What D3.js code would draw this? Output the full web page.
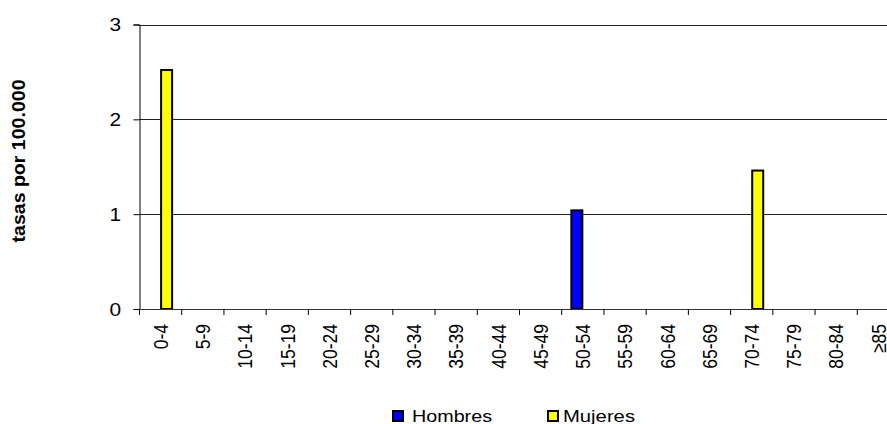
<!DOCTYPE html>
<html><head><meta charset="utf-8">
<script src="https://cdn.jsdelivr.net/npm/d3@7"></script>
<style>body{margin:0;background:#fff;overflow:hidden}svg{display:block;font-family:Arial,"Liberation Sans",sans-serif}</style>
</head><body><svg id="c" width="887" height="424"></svg>
<script>
const categories = ["0-4","5-9","10-14","15-19","20-24","25-29","30-34","35-39","40-44","45-49","50-54","55-59","60-64","65-69","70-74","75-79","80-84","≥85"];
const hombres = [0,0,0,0,0,0,0,0,0,0,1.04,0,0,0,0,0,0,0];
const mujeres = [2.52,0,0,0,0,0,0,0,0,0,0,0,0,0,1.46,0,0,0];
const seriesNames = ["Hombres","Mujeres"];
const seriesColors = ["#0000ff","#ffff00"];
const yTicks = [0,1,2,3];

const FONT = "Arial, 'Liberation Sans', sans-serif";
const SX = 1.16; // horizontal stretch seen in the reference text
const svg = d3.select("#c");
const mLeft = 139.5, mTop = 24.5, plotW = 760, plotH = 284.5;
const x = d3.scaleBand().domain(categories).range([mLeft, mLeft + plotW]);
const y = d3.scaleLinear().domain([0,3]).range([mTop + plotH, mTop]);
const sub = d3.scaleBand().domain(seriesNames).range([0, 24]);

// gridlines
svg.append("g").selectAll("line").data(yTicks.filter(d => d > 0)).join("line")
  .attr("x1", mLeft).attr("x2", mLeft + plotW)
  .attr("y1", d => Math.round(y(d)) + 0.5).attr("y2", d => Math.round(y(d)) + 0.5)
  .attr("stroke", "#222").attr("stroke-width", 1);

// bars
const data = [hombres, mujeres];
data.forEach((vals, si) => {
  svg.append("g").selectAll("rect").data(categories.map((c, i) => ({c, v: vals[i]})).filter(d => d.v > 0)).join("rect")
    .attr("x", d => x(d.c) + x.bandwidth()/2 - 12 + sub(seriesNames[si]) + 0.5)
    .attr("width", sub.bandwidth() - 1)
    .attr("y", d => y(d.v))
    .attr("height", d => y(0) - y(d.v))
    .attr("fill", seriesColors[si]).attr("stroke", "#000").attr("stroke-width", 2);
});

// y axis
const yAxis = d3.axisLeft(y).tickValues(yTicks).tickSize(6).tickPadding(10).tickFormat(d3.format("d"));
const gy = svg.append("g").attr("transform", `translate(${mLeft},0)`).call(yAxis);
gy.select(".domain").attr("stroke", "#000");
gy.selectAll("line").attr("stroke", "#000");
gy.selectAll(".tick text").attr("font-size", 18).attr("fill", "#000").attr("font-family", FONT)
  .attr("x", -15.8).attr("dy", "0.36em")
  .attr("transform", `scale(${SX},1)`);

// x axis
const xAxis = d3.axisBottom(x).tickSize(0).tickPadding(0);
const gx = svg.append("g").attr("transform", `translate(0,${mTop + plotH})`).call(xAxis);
gx.select(".domain").attr("stroke", "#333");
gx.selectAll(".tick text").attr("font-size", 17.5).attr("fill", "#000")
  .attr("font-family", FONT)
  .attr("text-anchor", "end").attr("dy", "0.36em").attr("y", 0).attr("x", 0)
  .attr("transform", `translate(0,15) scale(${SX},1) rotate(-90)`);
// tick marks between categories
svg.append("g").selectAll("line").data(d3.range(categories.length + 1)).join("line")
  .attr("x1", i => mLeft + i * x.step()).attr("x2", i => mLeft + i * x.step())
  .attr("y1", mTop + plotH).attr("y2", mTop + plotH + 6)
  .attr("stroke", "#000");

// y title
svg.append("text").attr("transform", `translate(25,161) scale(${SX},1) rotate(-90)`)
  .attr("text-anchor", "middle").attr("font-size", 15.5).attr("font-weight", "bold")
  .attr("font-family", FONT)
  .attr("textLength", 163).attr("lengthAdjust", "spacingAndGlyphs")
  .text("tasas por 100.000");

// legend
const legBox = [392, 547];
const legText = [412, 563];
const legLen = [80, 72];
seriesNames.forEach((n, i) => {
  svg.append("rect").attr("x", legBox[i] + 1).attr("y", 411).attr("width", 10).attr("height", 10)
    .attr("fill", seriesColors[i]).attr("stroke", "#000").attr("stroke-width", 2);
  svg.append("text").attr("x", legText[i]).attr("y", 421.5).attr("font-size", 16.5)
    .attr("font-family", FONT)
    .attr("textLength", legLen[i]).attr("lengthAdjust", "spacingAndGlyphs").text(n);
});
</script></body></html>
